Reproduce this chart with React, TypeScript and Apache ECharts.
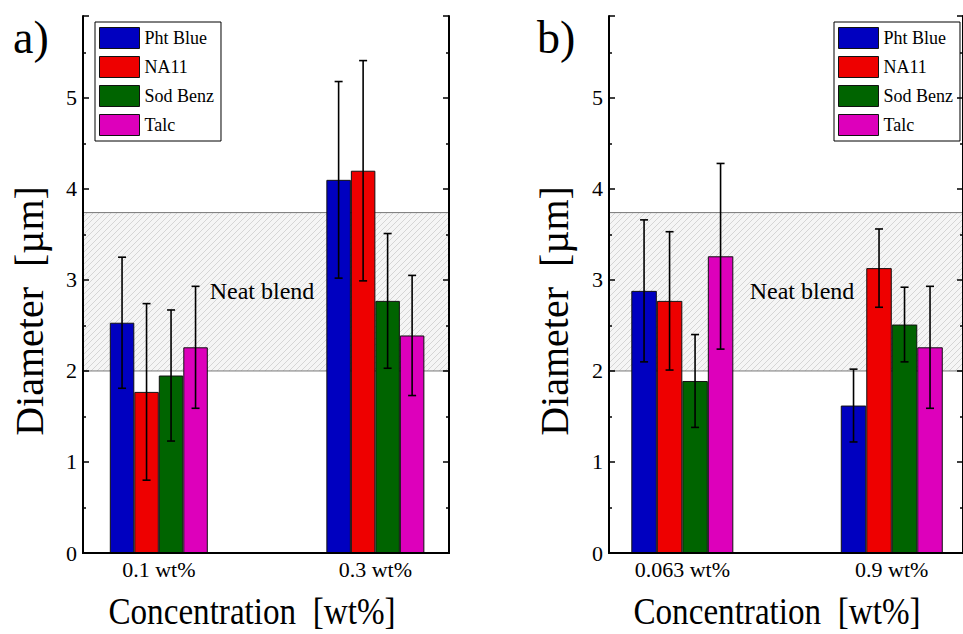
import React, { useEffect, useRef } from 'react';
import * as echarts from 'echarts';

const materials = ['Pht Blue', 'NA11', 'Sod Benz', 'Talc'];
const colors = ['#0000c0', '#ee0000', '#006400', '#dd00bb'];

const categoriesA = ['0.1 wt%', '0.3 wt%'];
const categoriesB = ['0.063 wt%', '0.9 wt%'];

// Panel a) means and standard deviations
const phtBlueA = [2.53, 4.1];
const na11A = [1.77, 4.2];
const sodBenzA = [1.95, 2.77];
const talcA = [2.26, 2.39];
const phtBlueErrA = [0.72, 1.08];
const na11ErrA = [0.97, 1.21];
const sodBenzErrA = [0.72, 0.74];
const talcErrA = [0.67, 0.66];

// Panel b) means and standard deviations
const phtBlueB = [2.88, 1.62];
const na11B = [2.77, 3.13];
const sodBenzB = [1.89, 2.51];
const talcB = [3.26, 2.26];
const phtBlueErrB = [0.78, 0.4];
const na11ErrB = [0.76, 0.43];
const sodBenzErrB = [0.51, 0.41];
const talcErrB = [1.02, 0.67];

// Neat blend band
const neatBlendBand = [2.0, 3.74];

const yMax = 5.9;
const yInterval = 1;
const xMin = 0.65;
const xMax = 2.34;

const FONT = '"Liberation Serif", "Times New Roman", serif';

export default function App() {
  const ref = useRef<HTMLDivElement>(null);

  useEffect(() => {
    if (!ref.current) return;
    document.body.style.margin = '0';
    const chart = echarts.init(ref.current, null, { renderer: 'svg', width: 963, height: 634 });

    const tile = document.createElement('canvas');
    tile.width = 6;
    tile.height = 6;
    const ctx = tile.getContext('2d')!;
    ctx.fillStyle = '#f5f5f5';
    ctx.fillRect(0, 0, 6, 6);
    ctx.strokeStyle = '#cdcdcd';
    ctx.lineWidth = 0.8;
    ctx.beginPath();
    ctx.moveTo(0, 6); ctx.lineTo(6, 0);
    ctx.moveTo(-1, 1); ctx.lineTo(1, -1);
    ctx.moveTo(5, 7); ctx.lineTo(7, 5);
    ctx.stroke();

    const panels = [
      { cats: categoriesA, means: [phtBlueA, na11A, sodBenzA, talcA], errs: [phtBlueErrA, na11ErrA, sodBenzErrA, talcErrA], bw: 24.5 },
      { cats: categoriesB, means: [phtBlueB, na11B, sodBenzB, talcB], errs: [phtBlueErrB, na11ErrB, sodBenzErrB, talcErrB], bw: 25.5 },
    ];

    const grids = [
      { left: 83, top: 16, width: 366, height: 537 },
      { left: 609, top: 16, width: 366, height: 537 },
    ];

    const xAxes: any[] = [];
    const yAxes: any[] = [];
    const series: any[] = [];

    panels.forEach((p, pi) => {
      const cats = p.cats;
      xAxes.push({
        type: 'value', gridIndex: pi, position: 'bottom', min: xMin, max: xMax, z: 10,
        axisLine: { show: true, lineStyle: { color: '#000', width: 2 } },
        axisTick: { show: false },
        splitLine: { show: false },
        axisLabel: {
          customValues: cats.map((_, i) => i + 1),
          formatter: (v: number) => cats[Math.round(v) - 1] ?? '',
          color: '#000', fontFamily: FONT, fontSize: 22, margin: 5,
        },
      });
      xAxes.push({
        type: 'value', gridIndex: pi, position: 'top', min: xMin, max: xMax, z: 10,
        axisLine: { show: true, lineStyle: { color: '#000', width: 2 } },
        axisTick: { show: false }, axisLabel: { show: false }, splitLine: { show: false },
      });
      const yBase = {
        type: 'value', gridIndex: pi, min: 0, max: yMax, interval: yInterval, z: 10,
        axisLine: { show: true, lineStyle: { color: '#000', width: 2 } },
        axisTick: { show: true, inside: true, length: 6, lineStyle: { color: '#000', width: 1.5 } },
        minorTick: { show: true, splitNumber: 2, length: 3, lineStyle: { color: '#000', width: 1.5 } },
        splitLine: { show: false },
        minorSplitLine: { show: false },
      };
      yAxes.push({
        ...yBase, position: 'left',
        axisLabel: {
          color: '#000', fontFamily: FONT, fontSize: 22, margin: 6,
          formatter: (v: number) => (Math.abs(v - Math.round(v)) < 1e-6 ? String(Math.round(v)) : ''),
        },
      });
      yAxes.push({ ...yBase, position: 'right', axisLabel: { show: false } });

      const xi = pi * 2;
      const yi = pi * 2;

      // hatched neat-blend band
      series.push({
        type: 'custom', name: 'neat-' + pi, xAxisIndex: xi, yAxisIndex: yi, z: 1, silent: true,
        encode: { x: 0, y: [1, 2] },
        data: [[1, neatBlendBand[0], neatBlendBand[1]]],
        renderItem: (params: any, api: any) => {
          const cs = params.coordSys;
          const yLo = api.coord([1, api.value(1)])[1];
          const yHi = api.coord([1, api.value(2)])[1];
          return {
            type: 'group',
            children: [
              { type: 'rect', shape: { x: cs.x, y: yHi, width: cs.width, height: yLo - yHi }, style: { fill: { image: tile, repeat: 'repeat', imageWidth: 6, imageHeight: 6 } as any } },
              { type: 'line', shape: { x1: cs.x, y1: yHi, x2: cs.x + cs.width, y2: yHi }, style: { stroke: '#777', lineWidth: 1 } },
              { type: 'line', shape: { x1: cs.x, y1: yLo, x2: cs.x + cs.width, y2: yLo }, style: { stroke: '#777', lineWidth: 1 } },
            ],
          };
        },
      });

      materials.forEach((m, k) => {
        series.push({
          type: 'bar', name: m, xAxisIndex: xi, yAxisIndex: yi, z: 2,
          barWidth: p.bw, barGap: '0%',
          itemStyle: { color: colors[k], borderColor: '#111', borderWidth: 1 },
          data: cats.map((_, i) => [i + 1, p.means[k][i]]),
        });
      });

      materials.forEach((m, k) => {
        const off = (k - 1.5) * p.bw;
        series.push({
          type: 'custom', name: 'err-' + pi + '-' + k, xAxisIndex: xi, yAxisIndex: yi, z: 5, silent: true,
          encode: { x: 0, y: [1, 2] },
          data: cats.map((_, i) => [i + 1, p.means[k][i] - p.errs[k][i], p.means[k][i] + p.errs[k][i]]),
          renderItem: (params: any, api: any) => {
            const x = api.value(0);
            const top = api.coord([x, api.value(2)]);
            const bot = api.coord([x, api.value(1)]);
            const cx = top[0] + off;
            const cap = 4;
            const st = { stroke: '#000', lineWidth: 1.6 };
            return {
              type: 'group',
              children: [
                { type: 'line', shape: { x1: cx, y1: top[1], x2: cx, y2: bot[1] }, style: st },
                { type: 'line', shape: { x1: cx - cap, y1: top[1], x2: cx + cap, y2: top[1] }, style: st },
                { type: 'line', shape: { x1: cx - cap, y1: bot[1], x2: cx + cap, y2: bot[1] }, style: st },
              ],
            };
          },
        });
      });
    });

    const legendBase = {
      orient: 'vertical', top: 22, itemWidth: 40, itemHeight: 21, itemGap: 7,
      padding: [5, 7, 5, 4], borderColor: '#000', borderWidth: 1, backgroundColor: '#fff',
      icon: 'rect', data: materials,
      itemStyle: { borderColor: '#111', borderWidth: 1 },
      textStyle: { color: '#000', fontFamily: FONT, fontSize: 18 },
      selectedMode: false,
    };

    const txt = (text: string, x: number, y: number, size: number, extra: any = {}) => ({
      type: 'text', x, y, z: 20, silent: true, ...extra,
      style: {
        text, fill: '#000', fontFamily: FONT, fontSize: size,
        textAlign: extra.align || 'center', textVerticalAlign: 'middle',
        align: extra.align || 'center', verticalAlign: 'middle',
      },
    });

    chart.setOption({
      animation: false,
      backgroundColor: '#fff',
      grid: grids,
      xAxis: xAxes,
      yAxis: yAxes,
      legend: [
        { ...legendBase, left: 95 },
        { ...legendBase, left: 834 },
      ],
      series,
      graphic: [
        txt('a)', 13, 37, 46, { align: 'left' }),
        txt('b)', 537, 37, 46, { align: 'left' }),
        txt('Diameter  [\u00b5m]', 29.5, 311, 40, { rotation: Math.PI / 2 }),
        txt('Diameter  [\u00b5m]', 554, 311, 40, { rotation: Math.PI / 2 }),
        txt('Concentration  [wt%]', 252, 611, 39, { scaleX: 0.85 }),
        txt('Concentration  [wt%]', 777, 611, 39, { scaleX: 0.85 }),
        txt('Neat blend', 262, 291, 24),
        txt('Neat blend', 802, 291, 24),
      ],
    });

    return () => chart.dispose();
  }, []);

  return <div ref={ref} style={{ position: 'absolute', left: 0, top: 0, width: 963, height: 634 }} />;
}
